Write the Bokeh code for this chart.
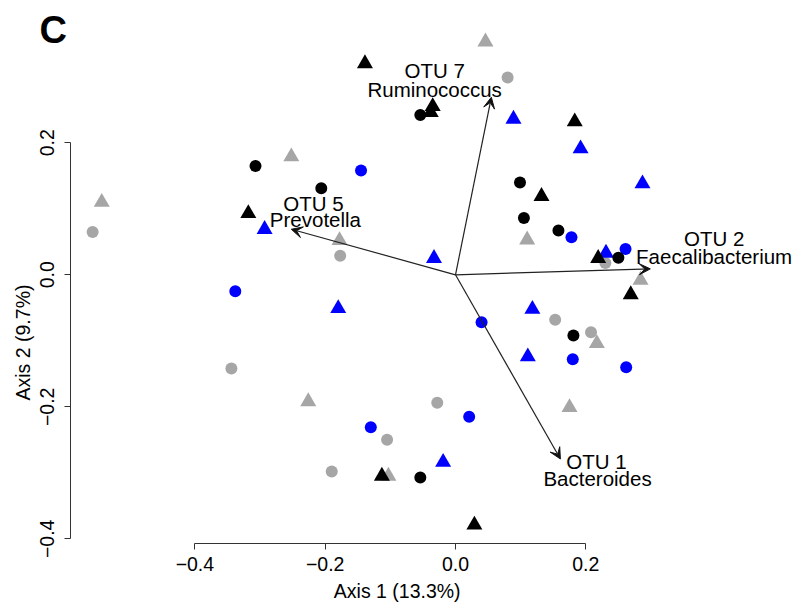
import math
from bokeh.plotting import figure
from bokeh.models import FixedTicker, Arrow, VeeHead, ColumnDataSource
from bokeh.core.properties import value
from bokeh.embed import file_html
from bokeh.resources import INLINE

# ---- data (PCoA biplot) ----
grey_circle_x = [-0.557, -0.177, 0.080, -0.344, -0.105, -0.190, -0.028, 0.153, 0.208, 0.230]
grey_circle_y = [0.065, 0.029, 0.299, -0.142, -0.250, -0.298, -0.194, -0.068, -0.087, 0.018]

grey_tri_x = [-0.543, -0.252, -0.178, 0.046, 0.110, 0.284, 0.217, 0.175, -0.226, -0.103]
grey_tri_y = [0.110, 0.179, 0.052, 0.353, 0.053, -0.008, -0.104, -0.201, -0.192, -0.305]

blue_circle_x = [-0.145, -0.338, 0.178, 0.261, 0.040, 0.180, 0.262, 0.021, -0.130]
blue_circle_y = [0.158, -0.025, 0.057, 0.039, -0.072, -0.128, -0.140, -0.215, -0.231]

blue_tri_x = [-0.293, -0.033, 0.089, 0.192, 0.287, 0.231, -0.180, 0.118, 0.111, -0.019]
blue_tri_y = [0.069, 0.025, 0.236, 0.191, 0.138, 0.033, -0.051, -0.052, -0.124, -0.284]

black_circle_x = [-0.307, -0.206, -0.054, 0.099, 0.105, 0.158, 0.250, 0.181, -0.054]
black_circle_y = [0.165, 0.131, 0.242, 0.140, 0.086, 0.067, 0.026, -0.092, -0.307]

black_tri_x = [-0.139, -0.035, -0.038, -0.318, 0.183, 0.132, 0.219, 0.269, -0.113, 0.029]
black_tri_y = [0.320, 0.255, 0.246, 0.093, 0.232, 0.119, 0.025, -0.030, -0.305, -0.379]

# loading arrows
otu_names = ["OTU 1", "OTU 2", "OTU 5", "OTU 7"]
genus_names = ["Bacteroides", "Faecalibacterium", "Prevotella", "Ruminococcus"]
arrow_x = [0.161, 0.299, -0.252, 0.055]
arrow_y = [-0.279, 0.009, 0.069, 0.269]
otu_label_x = [0.2164, 0.397, -0.218, -0.032]
otu_label_y = [-0.2825, 0.0554, 0.1084, 0.3095]
genus_label_x = [0.218, 0.397, -0.215, -0.032]
genus_label_y = [-0.3082, 0.0281, 0.0831, 0.2810]

ticks = [-0.4, -0.2, 0.0, 0.2]
tick_labels = ["\u22120.4", "\u22120.2", "0.0", "0.2"]
x_title = "Axis 1 (13.3%)"
y_title = "Axis 2 (9.7%)"
panel_letter = "C"

FONT = "Liberation Sans"
AX_COL = "#333333"

# the frame fills the whole canvas; axes sit at fixed positions inside it
p = figure(width=796, height=603,
           x_range=(-0.69839, 0.52341), y_range=(-0.49803, 0.41561),
           output_backend="svg", toolbar_location=None,
           min_border_left=0, min_border_right=0, min_border_top=0,
           min_border_bottom=0)
p.outline_line_color = None
p.xgrid.visible = False
p.ygrid.visible = False
p.background_fill_color = "white"
p.border_fill_color = "white"

p.xaxis[0].fixed_location = -0.40758
p.yaxis[0].fixed_location = -0.59171

for ax in (p.xaxis[0], p.yaxis[0]):
    ax.ticker = FixedTicker(ticks=ticks)
    ax.major_label_overrides = {t: l for t, l in zip(ticks, tick_labels)}
    ax.bounds = (-0.4, 0.2)
    ax.major_label_text_font = FONT
    ax.major_label_text_font_size = "19.5px"
    ax.major_label_text_color = "black"
    ax.axis_line_color = AX_COL
    ax.major_tick_line_color = AX_COL
    ax.major_tick_out = 6
    ax.major_tick_in = 0
    ax.minor_tick_line_color = None

p.xaxis[0].major_label_standoff = 7
p.yaxis[0].major_label_standoff = 10
p.yaxis[0].major_label_orientation = "vertical"

GREY = "#A6A6A6"
BLUE = "#0000FF"
BLACK = "#000000"

groups = [
    (grey_circle_x, grey_circle_y, "circle", GREY, 12),
    (grey_tri_x, grey_tri_y, "triangle", GREY, 16),
    (blue_circle_x, blue_circle_y, "circle", BLUE, 12),
    (blue_tri_x, blue_tri_y, "triangle", BLUE, 16),
    (black_circle_x, black_circle_y, "circle", BLACK, 12),
    (black_tri_x, black_tri_y, "triangle", BLACK, 16),
]
for gx, gy, mk, col, sz in groups:
    p.scatter(gx, gy, marker=mk, size=sz, fill_color=col, line_color=None)

arrow_src = ColumnDataSource(dict(x0=[0.0] * len(arrow_x), y0=[0.0] * len(arrow_y),
                                  x1=arrow_x, y1=arrow_y))
p.add_layout(Arrow(end=VeeHead(size=11, fill_color="#111111", line_color="#111111", line_width=1),
                   x_start="x0", y_start="y0", x_end="x1", y_end="y1",
                   line_color="#222222", line_width=1.2, source=arrow_src))

p.text(otu_label_x, otu_label_y, text=otu_names, text_font=value(FONT),
       text_font_size="20.5px", text_align="center", text_baseline="alphabetic",
       text_color="black")
p.text(genus_label_x, genus_label_y, text=genus_names, text_font=value(FONT),
       text_font_size="20.5px", text_align="center", text_baseline="alphabetic",
       text_color="black")

# axis titles
p.text([-0.0895], [-0.4789], text=[x_title], text_font=value(FONT),
       text_font_size="19.5px", text_align="center", text_baseline="alphabetic",
       text_color="black")
p.text([-0.6645], [-0.1026], text=[y_title], text_font=value(FONT),
       text_font_size="19.5px", text_align="center", text_baseline="alphabetic",
       text_color="black", angle=math.pi / 2)

# panel letter
p.text([-0.6385], [0.3704], text=[panel_letter], text_font=value(FONT),
       text_font_size="38px", text_font_style="bold", text_align="left",
       text_baseline="alphabetic", text_color="black")

open("out.html", "w").write(file_html(p, INLINE))
